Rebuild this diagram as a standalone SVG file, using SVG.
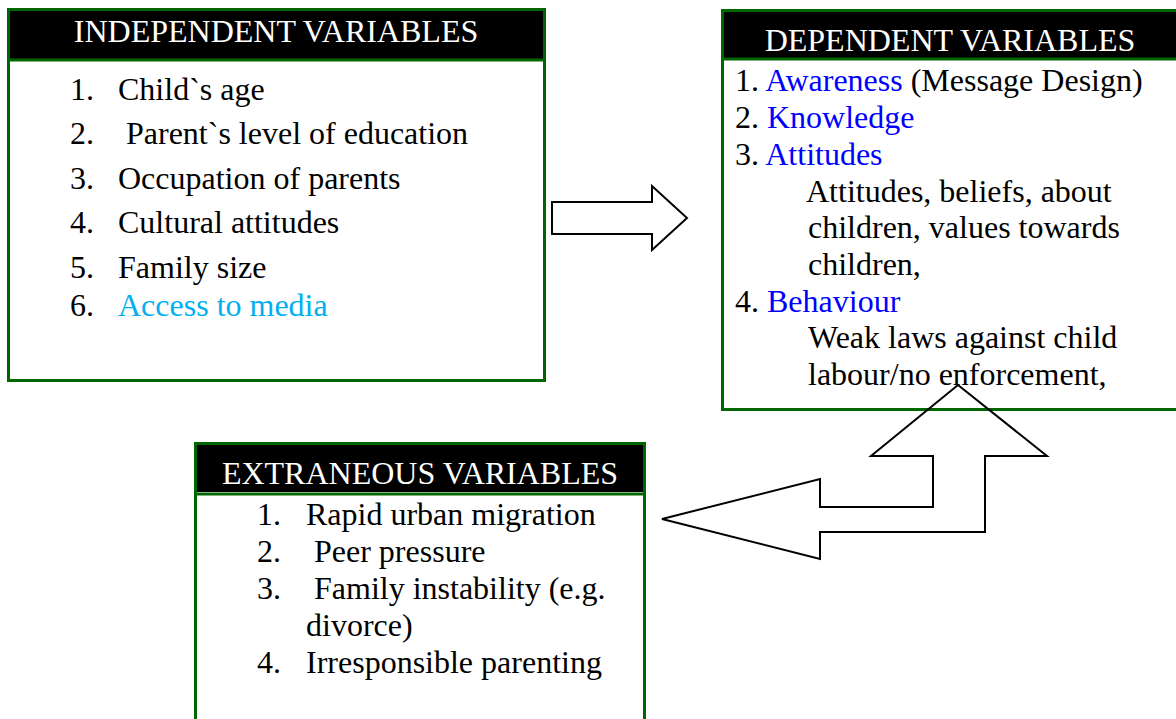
<svg xmlns="http://www.w3.org/2000/svg" width="1176" height="719" viewBox="0 0 1176 719">
<style>
.box{fill:#fff;stroke:#006600;stroke-width:3}
.hdr{fill:#000}
.sep{stroke:#006600;stroke-width:3}
text{font-family:"Liberation Serif","Times New Roman",serif;font-size:32px;fill:#000}
.ht{fill:#fff;text-anchor:middle}
.b{fill:#0000ff}
.lb{fill:#00b0f0}
.arr{stroke:#000;stroke-width:2;stroke-linejoin:miter}
</style>
<rect width="1176" height="719" fill="#fff"/>
<g id="independent">
<rect class="box" x="8.5" y="9.5" width="536" height="371"/>
<rect class="hdr" x="10" y="11" width="533" height="48"/>
<line class="sep" x1="8" y1="60" x2="545" y2="60"/>
<text class="ht" x="276" y="42">INDEPENDENT VARIABLES</text>
<text x="70" y="100">1.</text><text x="118" y="100">Child`s age</text>
<text x="70" y="144">2.</text><text x="126" y="144">Parent`s level of education</text>
<text x="70" y="189">3.</text><text x="118" y="189">Occupation of parents</text>
<text x="70" y="233">4.</text><text x="118" y="233">Cultural attitudes</text>
<text x="70" y="278">5.</text><text x="118" y="278">Family size</text>
<text x="70" y="316">6.</text><text class="lb" x="118" y="316">Access to media</text>
</g>
<g id="dependent">
<rect class="box" x="722.5" y="10.5" width="460" height="399"/>
<rect class="hdr" x="724" y="12" width="460" height="46"/>
<line class="sep" x1="722" y1="59" x2="1180" y2="59"/>
<text class="ht" x="950" y="51">DEPENDENT VARIABLES</text>
<text x="735" y="91">1. <tspan class="b">Awareness</tspan> (Message Design)</text>
<text x="735" y="128">2. <tspan class="b">Knowledge</tspan></text>
<text x="735" y="165">3. <tspan class="b">Attitudes</tspan></text>
<text x="806" y="202">Attitudes, beliefs, about</text>
<text x="808" y="238">children, values towards</text>
<text x="808" y="275">children,</text>
<text x="735" y="312">4. <tspan class="b">Behaviour</tspan></text>
<text x="808" y="348">Weak laws against child</text>
<text x="808" y="385">labour/no enforcement,</text>
</g>
<g id="extraneous">
<rect class="box" x="195.5" y="443.5" width="449" height="300"/>
<rect class="hdr" x="197" y="445" width="446" height="47"/>
<line class="sep" x1="195" y1="494" x2="645" y2="494"/>
<text class="ht" x="420" y="484">EXTRANEOUS VARIABLES</text>
<text x="257" y="525">1.</text><text x="306" y="525">Rapid urban migration</text>
<text x="257" y="562">2.</text><text x="314" y="562">Peer pressure</text>
<text x="257" y="599">3.</text><text x="314" y="599">Family instability (e.g.</text>
<text x="306" y="636">divorce)</text>
<text x="257" y="673">4.</text><text x="306" y="673">Irresponsible parenting</text>
</g>
<g id="connectors">
<polygon class="arr" fill="#fff" points="552,202 652,202 652,186 687,218 652,250 652,234 552,234"/>
<polygon class="arr" fill="none" points="958,385 1047,456 985,456 985,532 820,532 820,559 662,519 820,479 820,507 933,507 933,456 871,456"/>
</g>
</svg>
